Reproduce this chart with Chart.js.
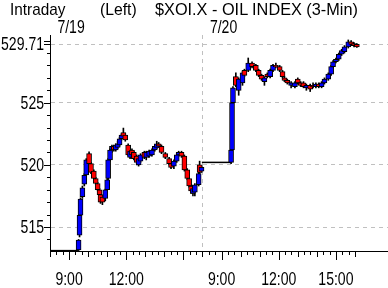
<!DOCTYPE html>
<html>
<head>
<meta charset="utf-8">
<script src="https://cdn.jsdelivr.net/npm/chart.js@4"></script>
<style>
body { margin: 0; background: #fff; }
#wrap { position: relative; width: 388px; height: 288px; }
.t { position: absolute; top: 0; font: 17px 'Liberation Sans', sans-serif; white-space: nowrap; transform-origin: 0 0; color: #000; }
</style>
</head>
<body>
<div id="wrap">
	<canvas id="c" width="388" height="288"></canvas>
	<div class="t" id="t1" style="left:10px">Intraday</div>
	<div class="t" id="t2" style="left:100px">(Left)</div>
	<div class="t" id="t3" style="left:155px">$XOI.X - OIL INDEX (3-Min)</div>
</div>
<script>
// 7/19
var day1Times = ['09:30','09:33','09:36','09:42','09:48','09:54','10:03','10:09','10:18','10:24','10:30','10:36','10:39','10:45','10:54','11:00','11:03','11:09','11:15','11:21','11:27','11:33','11:39','11:45','11:51','11:57','12:06','12:12','12:18','12:24','12:33','12:39','12:45','12:57','13:03','13:12','13:21','13:30','13:36','13:42','13:51','14:03','14:15','14:21','14:30','14:39','14:45','14:54','15:03','15:12','15:18','15:24','15:30','15:36','15:48','15:51','15:57'];
var day1Open  = [513.15,514.35,515.95,517.45,518.45,519.2,520.9,520.1,519.5,518.9,518.5,518.0,517.6,517.4,517.3,518.0,518.9,520.4,521.2,521.5,521.2,521.4,521.6,522.1,522.6,522.4,521.6,520.6,521.2,521.0,520.7,520.0,520.3,521.0,520.6,520.7,520.8,521.2,521.4,521.7,521.5,520.9,520.5,520.1,519.9,520.3,520.8,521.0,520.7,519.6,518.9,518.3,517.7,517.8,518.4,520.0,519.5];
var day1High  = [514.0,516.05,517.35,518.3,519.3,520.5,521.05,520.2,519.6,519.0,518.6,518.1,517.7,517.5,518.05,518.9,520.5,521.3,521.6,521.6,521.7,521.9,522.2,522.5,522.96,522.5,521.7,521.2,521.3,521.1,520.8,520.6,520.9,521.1,521.1,521.2,521.3,521.6,521.9,521.8,521.6,521.0,520.6,520.2,520.4,520.9,521.1,521.1,520.8,519.7,519.0,518.4,518.2,518.5,519.4,520.3,519.9];
var day1Low   = [513.1,514.2,515.8,517.3,518.3,519.1,520.0,519.3,518.8,518.4,517.9,517.5,516.9,516.8,517.1,517.9,518.8,520.3,521.0,521.1,521.1,521.3,521.5,522.0,522.2,521.9,520.7,520.5,520.7,520.4,520.0,519.9,520.2,520.5,520.4,520.6,520.7,521.1,521.3,521.4,520.9,520.5,520.0,519.7,519.7,520.2,520.7,520.6,519.5,518.8,518.2,517.7,517.5,517.5,518.3,519.3,519.4];
var day1Close = [513.95,515.95,517.25,518.15,519.15,520.4,520.1,519.4,518.9,518.5,518.0,517.6,517.0,517.0,518.0,518.8,520.4,521.2,521.5,521.2,521.6,521.7,522.1,522.4,522.3,522.0,520.8,521.1,520.8,520.5,520.2,520.5,520.8,520.6,521.0,521.1,521.2,521.5,521.7,521.5,521.0,520.6,520.1,519.8,520.3,520.8,521.0,520.7,519.6,518.9,518.3,517.9,518.1,518.4,519.3,519.4,519.8];

// 7/20
var day2Times = ['09:30','09:33','09:36','09:45','09:54','10:06','10:12','10:24','10:36','10:48','10:57','11:06','11:15','11:24','11:33','11:42','11:51','12:03','12:12','12:18','12:27','12:39','12:51','13:00','13:09','13:18','13:27','13:39','13:48','13:57','14:06','14:15','14:24','14:36','14:45','14:51','15:00','15:09','15:18','15:27','15:39','15:48','15:57','16:06'];
var day2Open  = [520.2,521.2,525.0,527.1,526.0,526.6,527.6,527.6,528.2,528.0,527.6,527.2,526.7,527.3,527.1,527.6,528.0,527.9,527.5,527.0,526.8,526.4,526.3,526.9,526.6,526.6,526.2,526.4,526.4,526.3,526.5,526.3,526.6,526.9,527.3,527.9,528.3,528.5,528.9,529.1,529.5,529.9,529.75,529.7];
var day2High  = [521.3,525.1,526.3,527.4,527.0,527.5,527.7,528.6,528.3,528.1,527.7,527.3,527.1,527.4,527.7,528.1,528.2,528.0,527.6,527.1,526.9,526.7,526.7,527.0,526.7,526.7,526.5,526.5,526.6,526.6,526.6,526.7,527.0,527.4,528.0,528.4,528.6,529.0,529.3,529.6,530.05,530.0,529.85,529.75];
var day2Low   = [520.1,521.1,524.9,526.3,525.6,526.4,527.1,527.5,527.8,527.5,527.1,526.8,526.4,527.0,527.0,527.5,527.8,527.5,527.0,526.7,526.5,526.2,526.2,526.5,526.3,526.2,526.0,525.9,526.2,526.2,526.2,526.2,526.5,526.8,527.2,527.8,528.2,528.4,528.8,529.0,529.4,529.6,529.5,529.45];
var day2Close = [521.2,525.0,526.2,526.4,526.9,527.4,527.2,528.2,527.9,527.6,527.2,526.9,527.0,527.1,527.6,528.0,527.9,527.6,527.1,526.8,526.6,526.6,526.6,526.6,526.4,526.3,526.4,526.1,526.3,526.5,526.3,526.6,526.9,527.3,527.9,528.3,528.5,528.9,529.2,529.5,529.9,529.7,529.6,529.5];

var prevClose1 = 513.1;   // before the 7/19 open
var prevClose2 = 520.2;   // 7/19 close carried to the 7/20 open
var lastPrice = 529.71;
var yTicks = [515, 520, 525, lastPrice];
var timeLabels = {60: '9:00', 240: '12:00', 540: '9:00', 720: '12:00', 900: '15:00'};
var dateLabels = {60: '7/19', 540: '7/20'};

// minutes from 8:00 on 7/19, a day is 8:00-16:00
function toX(day, t) {
	var p = t.split(':');
	return day * 480 + (parseInt(p[0]) - 8) * 60 + parseInt(p[1]);
}

var bodies = [], wicks = [], colors = [];
function addDay(day, times, o, h, l, c) {
	for (var i = 0; i < times.length; i++) {
		var x = toX(day, times[i]);
		bodies.push({x: x, y: [o[i], c[i]]});
		wicks.push({x: x, y: [l[i], h[i]]});
		colors.push(c[i] >= o[i] ? '#0000ff' : '#ff0000');
	}
}
addDay(0, day1Times, day1Open, day1High, day1Low, day1Close);
addDay(1, day2Times, day2Open, day2High, day2Low, day2Close);

// narrow text, like the original's condensed font
function narrowText(ctx, str, x, y, align, base) {
	ctx.save();
	ctx.font = '18px "Liberation Sans", sans-serif';
	ctx.textAlign = align;
	ctx.textBaseline = base;
	ctx.translate(x, y);
	ctx.scale(0.78, 1);
	ctx.fillText(str, 0, 0);
	ctx.restore();
}

var axisDecor = {
	id: 'axisDecor',
	afterDraw: function (chart) {
		var ctx = chart.ctx, xs = chart.scales.x, ys = chart.scales.y;
		var area = chart.chartArea;
		ctx.save();
		ctx.strokeStyle = '#000';
		ctx.fillStyle = '#000';
		ctx.lineWidth = 1;
		ctx.beginPath();
		for (var v = 0; v <= 960; v += 20) {
			var d = v % 480;
			var len = (d % 180 === 60) ? 9 : (d % 60 === 0 ? 6 : 4);
			var px = Math.round(xs.getPixelForValue(v)) + 0.5;
			ctx.moveTo(px, area.bottom);
			ctx.lineTo(px, area.bottom + len);
		}
		for (var w = 514; w <= 530; w++) {
			var py = Math.round(ys.getPixelForValue(w)) + 0.5;
			var l2 = (w % 5 === 0) ? 6 : 3;
			ctx.moveTo(area.left - l2, py);
			ctx.lineTo(area.left, py);
		}
		var pl = Math.round(ys.getPixelForValue(lastPrice)) + 0.5;
		ctx.moveTo(area.left - 6, pl);
		ctx.lineTo(area.left, pl);
		ctx.stroke();

		Object.keys(timeLabels).forEach(function (k) {
			narrowText(ctx, timeLabels[k], xs.getPixelForValue(+k), 285, 'center', 'alphabetic');
		});
		Object.keys(dateLabels).forEach(function (k) {
			narrowText(ctx, dateLabels[k], xs.getPixelForValue(+k) + 2, 33, 'center', 'alphabetic');
		});
		yTicks.forEach(function (v) {
			narrowText(ctx, v === lastPrice ? '529.71' : String(v), area.left - 6, ys.getPixelForValue(v) + 1, 'right', 'middle');
		});
		ctx.restore();
	}
};

new Chart(document.getElementById('c'), {
	type: 'bar',
	data: {
		datasets: [{
			data: bodies,
			backgroundColor: colors,
			borderColor: '#000',
			borderWidth: 1,
			borderSkipped: false,
			barThickness: 5,
			grouped: false
		}, {
			data: wicks,
			backgroundColor: '#000',
			borderWidth: 0,
			barThickness: 1,
			grouped: false
		}, {
			type: 'line',
			data: [{x: 0, y: prevClose1}, {x: 88, y: prevClose1}],
			borderColor: '#000',
			borderWidth: 1.5,
			pointRadius: 0
		}, {
			type: 'line',
			data: [{x: 478, y: prevClose2}, {x: 569, y: prevClose2}],
			borderColor: '#000',
			borderWidth: 1.5,
			pointRadius: 0
		}]
	},
	options: {
		responsive: false,
		animation: false,
		layout: {padding: {top: 35, left: 0, right: 0, bottom: 0}},
		plugins: {legend: {display: false}, tooltip: {enabled: false}, title: {display: false}},
		scales: {
			x: {
				type: 'linear', min: 0, max: 1064, offset: false,
				grid: {offset: false, drawTicks: false, color: function (c) { return c.tick && c.tick.value === 480 ? '#c0c0c0' : 'rgba(0,0,0,0)'; }},
				border: {display: true, color: '#000', width: 1, dash: [4, 4]},
				ticks: {display: false},
				afterBuildTicks: function (s) { s.ticks = [480].map(function (v) { return {value: v}; }); },
				afterFit: function (s) { s.height = 37; }
			},
			y: {
				type: 'linear', min: 513.07, max: 530.45,
				grid: {drawTicks: false, color: '#c0c0c0'},
				border: {display: true, color: '#000', width: 1, dash: [4, 4]},
				ticks: {display: false},
				afterBuildTicks: function (s) { s.ticks = yTicks.map(function (v) { return {value: v}; }); },
				afterFit: function (s) { s.width = 50; }
			}
		}
	},
	plugins: [axisDecor]
});

// squeeze title pieces to the widths seen in the original
[['t1', 55], ['t2', 37], ['t3', 203]].forEach(function (p) {
	var el = document.getElementById(p[0]);
	el.style.transform = 'scaleX(' + (p[1] / el.offsetWidth) + ')';
});
</script>
</body>
</html>
